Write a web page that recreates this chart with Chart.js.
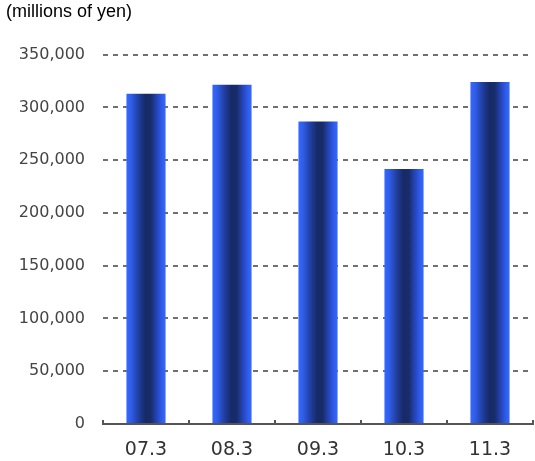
<!DOCTYPE html>
<html>
<head>
<meta charset="utf-8">
<script src="https://cdn.jsdelivr.net/npm/chart.js@4/dist/chart.umd.min.js"></script>
<style>
  html, body { margin: 0; padding: 0; background: #fff; }
  #wrap { width: 535px; height: 461px; }
</style>
</head>
<body>
<div id="wrap"><canvas id="salesChart"></canvas></div>
<script>
/* DATA */
const periods = ["07.3", "08.3", "09.3", "10.3", "11.3"];
const sales = [313000, 321500, 286500, 241500, 324000];
const unitLabel = "(millions of yen)";
const yMax = 350000;
const yStep = 50000;

/* bar fill: dark stripe across each bar, bright blue edges */
function barFill(c) {
  const chart = c.chart;
  const xs = chart.scales.x;
  if (!xs || c.dataIndex === undefined) return "#3366ff";
  const mid = xs.getPixelForValue(c.dataIndex);
  const half = (xs.width / periods.length) * 0.455 / 2;
  if (!isFinite(mid) || !isFinite(half) || half <= 0) return "#3366ff";
  const g = chart.ctx.createLinearGradient(mid - half, 0, mid + half, 0);
  g.addColorStop(0, "#3468ff");
  g.addColorStop(0.12, "#2f5de8");
  g.addColorStop(0.32, "#203c9c");
  g.addColorStop(0.48, "#172a68");
  g.addColorStop(0.62, "#182c6a");
  g.addColorStop(0.8, "#2749c2");
  g.addColorStop(0.93, "#3060f2");
  g.addColorStop(1, "#3468ff");
  return g;
}

/* little upward marks on the x axis at category edges */
const axisMarks = {
  id: "axisMarks",
  afterDraw(chart) {
    const xs = chart.scales.x;
    const ctx = chart.ctx;
    const y = chart.chartArea.bottom;
    ctx.save();
    ctx.strokeStyle = "#555";
    ctx.lineWidth = 2;
    for (let i = 0; i <= periods.length; i++) {
      const x = xs.left + i * xs.width / periods.length;
      ctx.beginPath();
      ctx.moveTo(x, y);
      ctx.lineTo(x, y - 4);
      ctx.stroke();
    }
    ctx.restore();
  }
};

const ctx = document.getElementById("salesChart").getContext("2d");
const chart = new Chart(ctx, {
  type: "bar",
  data: {
    labels: periods,
    datasets: [{
      data: sales,
      backgroundColor: "#3366ff",
      borderWidth: 0,
      barPercentage: 0.455,
      categoryPercentage: 1
    }]
  },
  options: {
    responsive: true,
    maintainAspectRatio: false,
    animation: false,
    layout: { padding: { left: 6, right: 2, top: 0, bottom: 0 } },
    plugins: {
      legend: { display: false },
      tooltip: { enabled: false },
      title: {
        display: true,
        text: unitLabel,
        align: "start",
        color: "#000",
        font: { family: "Liberation Sans", size: 18, weight: "normal" },
        padding: { top: 1, bottom: 32 }
      }
    },
    scales: {
      x: {
        afterFit: s => { s.height = 37; },
        grid: { display: true, drawOnChartArea: false, drawTicks: false },
        border: { display: true, color: "#555", width: 2 },
        ticks: {
          color: "#333",
          font: { family: "DejaVu Sans", size: 19 },
          padding: 15
        }
      },
      y: {
        min: 0,
        max: yMax,
        afterFit: s => { s.width = 97; },
        ticks: {
          stepSize: yStep,
          color: "#444",
          padding: 18,
          font: { family: "DejaVu Sans", size: 16 },
          callback: v => v.toLocaleString("en-US")
        },
        grid: {
          drawTicks: false,
          color: c => c.tick && c.tick.value === 0 ? "rgba(0,0,0,0)" : "#707070",
          lineWidth: 2
        },
        border: { display: false, dash: [5, 5] }
      }
    }
  },
  plugins: [axisMarks]
});

/* gradient needs the laid-out scale, so apply it after the first pass */
chart.data.datasets[0].backgroundColor = barFill;
chart.update();
</script>
</body>
</html>
